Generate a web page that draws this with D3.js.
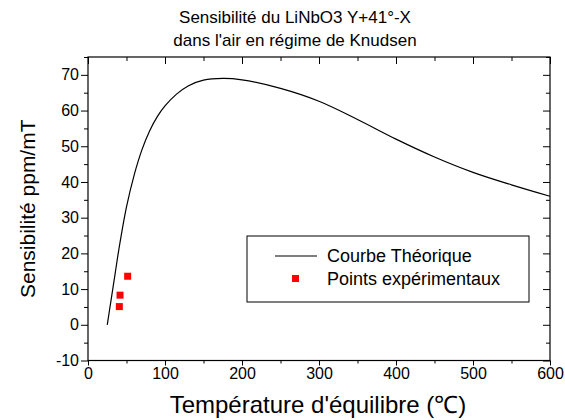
<!DOCTYPE html>
<html><head><meta charset="utf-8">
<script src="https://cdn.jsdelivr.net/npm/d3@7/dist/d3.min.js"></script>
<style>body{margin:0;background:#fff}svg{display:block;font-family:"Liberation Sans",Arial,sans-serif}</style>
</head><body><svg id="c" width="565" height="420"></svg>
<script>
const titleLines = ["Sensibilité du LiNbO3 Y+41°-X", "dans l'air en régime de Knudsen"];
const xLabel = "Température d'équilibre (℃)";
const yLabel = "Sensibilité ppm/mT";
const curveT = [25, 30, 35, 40, 50, 60, 70, 80, 90, 100, 115, 130, 150, 175, 200, 250, 300, 350, 400, 450, 500, 550, 600];
const curveS = [0, 7, 14, 21, 33, 42, 49, 54.3, 58.3, 61.3, 64.6, 66.9, 68.5, 69, 68.6, 66.2, 62.6, 57.5, 52, 47, 42.7, 39.2, 36];
const expT = [40.7, 41.6, 51.5];
const expS = [5.1, 8.3, 13.6];
const xTicks = [0, 100, 200, 300, 400, 500, 600];
const yTicks = [-10, 0, 10, 20, 30, 40, 50, 60, 70];
const legendLabels = ["Courbe Théorique", "Points expérimentaux"];

const svg = d3.select("#c");
const L = 88, R = 550, T = 57, B = 360.5;
const x = d3.scaleLinear().domain([0, 600]).range([L, R]);
const y = d3.scaleLinear().domain([-10, 75]).range([B, T]);
const fmt = d => String(d);

svg.append("rect").attr("x", L).attr("y", T).attr("width", R - L).attr("height", B - T)
  .attr("fill", "none").attr("stroke", "#000").attr("stroke-width", 1.2);

const minorX = d3.range(0, 601, 50).filter(v => v % 100 !== 0);
const minorY = d3.range(-10, 76, 5).filter(v => v % 10 !== 0);

function styleAxis(g) {
  g.select(".domain").remove();
  g.selectAll("line").attr("stroke", "#000").attr("stroke-width", 1);
  g.selectAll("text").attr("font-size", 16).attr("fill", "#000");
}
svg.append("g").attr("transform", `translate(0,${B})`)
  .call(d3.axisBottom(x).tickValues(xTicks).tickSize(5).tickPadding(2).tickFormat(fmt)).call(styleAxis);
svg.append("g").attr("transform", `translate(0,${B})`)
  .call(d3.axisBottom(x).tickValues(minorX).tickSize(3).tickFormat("")).call(styleAxis);
svg.append("g").attr("transform", `translate(${L},0)`)
  .call(d3.axisLeft(y).tickValues(yTicks).tickSize(7).tickPadding(2).tickFormat(fmt)).call(styleAxis);
svg.append("g").attr("transform", `translate(${L},0)`)
  .call(d3.axisLeft(y).tickValues(minorY).tickSize(4).tickFormat("")).call(styleAxis);
svg.append("g").attr("transform", `translate(0,${T})`)
  .call(d3.axisTop(x).tickValues(xTicks).tickSize(-7).tickFormat("")).call(styleAxis);
svg.append("g").attr("transform", `translate(0,${T})`)
  .call(d3.axisTop(x).tickValues(minorX).tickSize(-4).tickFormat("")).call(styleAxis);
svg.append("g").attr("transform", `translate(${R},0)`)
  .call(d3.axisRight(y).tickValues(yTicks).tickSize(-7).tickFormat("")).call(styleAxis);
svg.append("g").attr("transform", `translate(${R},0)`)
  .call(d3.axisRight(y).tickValues(minorY).tickSize(-4).tickFormat("")).call(styleAxis);

const line = d3.line().x(d => x(d[0])).y(d => y(d[1])).curve(d3.curveCatmullRom.alpha(0.5));
svg.append("path").datum(curveT.map((t, i) => [t, curveS[i]]))
  .attr("d", line).attr("fill", "none").attr("stroke", "#000").attr("stroke-width", 1.2);

svg.selectAll("rect.pt").data(expT.map((t, i) => [t, expS[i]])).join("rect").attr("class", "pt")
  .attr("x", d => x(d[0]) - 3.5).attr("y", d => y(d[1]) - 3.5).attr("width", 7).attr("height", 7).attr("fill", "#ff0000");

svg.append("text").attr("x", 295).attr("y", 23).attr("text-anchor", "middle").attr("font-size", 17).text(titleLines[0]);
svg.append("text").attr("x", 295).attr("y", 46).attr("text-anchor", "middle").attr("font-size", 17).text(titleLines[1]);

svg.append("text").attr("x", 318).attr("y", 413).attr("text-anchor", "middle").attr("font-size", 24).text(xLabel);
svg.append("text").attr("transform", `translate(35,${(T + B) / 2}) rotate(-90)`).attr("text-anchor", "middle").attr("font-size", 21).text(yLabel);

const lg = svg.append("g");
lg.append("rect").attr("x", 247).attr("y", 236).attr("width", 282).attr("height", 66)
  .attr("fill", "#fff").attr("stroke", "#000").attr("stroke-width", 1);
lg.append("line").attr("x1", 275).attr("x2", 317).attr("y1", 256).attr("y2", 256).attr("stroke", "#000").attr("stroke-width", 1.2);
lg.append("rect").attr("x", 292).attr("y", 275).attr("width", 7).attr("height", 7).attr("fill", "#ff0000");
lg.append("text").attr("x", 327).attr("y", 262).attr("font-size", 18).text(legendLabels[0]);
lg.append("text").attr("x", 327).attr("y", 285).attr("font-size", 18).text(legendLabels[1]);
</script></body></html>
